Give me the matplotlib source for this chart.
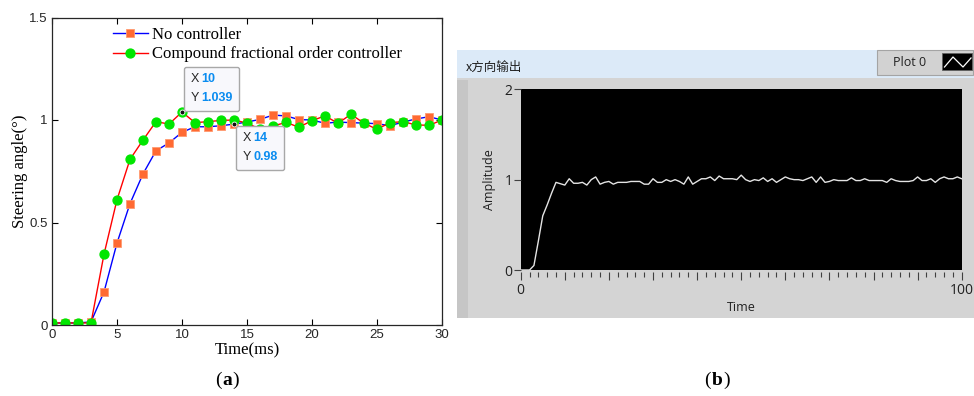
import numpy as np
import matplotlib.pyplot as plt
from matplotlib.patches import Rectangle
from matplotlib.lines import Line2D
from matplotlib.offsetbox import TextArea, HPacker, VPacker, AnnotationBbox

# ---- panel (a): step response, sampled every 1 ms ----
time_ms = list(range(0, 31))
no_ctrl = [0.01, 0.01, 0.01, 0.015, 0.161, 0.40, 0.592, 0.737, 0.850, 0.888,
           0.940, 0.967, 0.967, 0.972, 0.98, 0.990, 1.003, 1.024, 1.020, 1.002,
           1.000, 0.984, 0.990, 0.987, 0.985, 0.982, 0.972, 0.990, 1.005, 1.016,
           1.000]
compound = [0.01, 0.01, 0.01, 0.01, 0.345, 0.611, 0.808, 0.902, 0.992, 0.980,
            1.039, 0.987, 0.992, 0.998, 1.000, 0.985, 0.955, 0.971, 0.988, 0.965,
            0.997, 1.020, 0.984, 1.028, 0.984, 0.955, 0.987, 0.992, 0.976, 0.974,
            1.000]
series_names = ['No controller', 'Compound fractional order controller']

# ---- panel (b): x-direction output trace ----
trace_t = list(range(0, 101))
trace_amp = [0, 0, 0, 0.05, 0.32, 0.60, 0.72, 0.85, 0.97, 0.955,
             0.94, 1.01, 0.96, 0.96, 0.97, 0.94, 1.00, 1.03, 0.95, 0.97,
             0.98, 0.95, 0.97, 0.97, 0.97, 0.98, 0.98, 0.98, 0.95, 0.95,
             1.01, 0.97, 0.97, 1.00, 0.98, 1.00, 0.98, 0.95, 1.03, 0.95,
             0.98, 1.01, 1.01, 1.03, 0.99, 1.04, 1.01, 1.01, 1.01, 1.00,
             1.05, 1.00, 0.98, 1.00, 0.99, 1.02, 0.98, 1.01, 0.97, 1.00,
             1.03, 1.01, 1.00, 1.00, 0.99, 1.01, 1.03, 0.97, 1.03, 0.97,
             0.98, 1.00, 0.99, 0.99, 0.99, 1.02, 0.99, 0.99, 1.01, 0.99,
             0.99, 0.99, 0.99, 0.97, 1.01, 0.99, 0.98, 0.98, 0.98, 0.99,
             1.03, 0.99, 0.99, 1.01, 0.97, 1.01, 1.03, 1.01, 1.01, 1.03,
             1.01]

W, H = 974, 396
fig = plt.figure(figsize=(W / 100, H / 100), dpi=100)


def fx(px):
    return px / W


def fy(py):
    return 1 - py / H


SERIF = 'Liberation Serif'
SANS = 'Liberation Sans'

# ================= (a) =================
ax1 = fig.add_axes([fx(52), fy(325), (442 - 52) / W, (325 - 17.5) / H])
ax1.plot(time_ms, no_ctrl, color='#0000FF', lw=1, marker='s', ms=5.4,
         mfc='#FF6A33', mec='#FF9A70', mew=0.6, label=series_names[0])
ax1.plot(time_ms, compound, color='#FF0000', lw=1, marker='o', ms=6.4,
         mfc='#00E600', mec='#00E600', label=series_names[1])
ax1.set_xlim(0, 30)
ax1.set_ylim(0, 1.5)
ax1.set_xticks(range(0, 31, 5))
ax1.set_yticks([0, 0.5, 1, 1.5])
ax1.set_yticklabels(['0', '0.5', '1', '1.5'])
ax1.tick_params(direction='in', top=True, right=True, length=4, width=0.8,
                labelsize=9.5, pad=3)
for lab in ax1.get_xticklabels() + ax1.get_yticklabels():
    lab.set_family(SANS)
    lab.set_color('#262626')
for sp in ax1.spines.values():
    sp.set_color('#262626')
    sp.set_linewidth(0.9)
ax1.set_xlabel('Time(ms)', family=SERIF, fontsize=12, labelpad=1)
ax1.set_ylabel('Steering angle(°)', family=SERIF, fontsize=12, labelpad=1)
ax1.legend(loc='upper left', bbox_to_anchor=(0.12, 1.016), frameon=False,
           prop={'family': SERIF, 'size': 12}, handlelength=2.1,
           handletextpad=0.25, labelspacing=0.22, borderaxespad=0.45)


def datatip(ax, x, y, ylab, corner, offset):
    rows = []
    for key, val in (('X', '%d' % x), ('Y', ylab)):
        rows.append(HPacker(children=[
            TextArea(key, textprops=dict(color='#262626', size=9, family=SANS)),
            TextArea(val, textprops=dict(color='#0A8CF0', size=9,
                                         weight='bold', family=SANS))],
            pad=0, sep=2, align='baseline'))
    box = VPacker(children=rows, pad=0, sep=5, align='left')
    ab = AnnotationBbox(box, (x, y), xybox=offset, xycoords='data',
                        boxcoords='offset points', box_alignment=corner,
                        frameon=True, pad=0.45,
                        bboxprops=dict(boxstyle='round,pad=0.45,rounding_size=0.15',
                                       fc='#F8F8FC', ec='#A8A8A8', lw=1))
    ab.set_zorder(10)
    ax.add_artist(ab)
    ax.plot([x], [y], 'o', ms=3.5, mfc='#111111', mec='#FFFFFF', mew=0.6,
            zorder=11)


datatip(ax1, 10, compound[10], '%.3f' % compound[10], (0, 0), (6, 5.5))
datatip(ax1, 14, no_ctrl[14], '%.2f' % no_ctrl[14], (0, 1), (6, -6))


def panel_tag(letter, xc, yc):
    # "(x)" with a bold letter and regular brackets
    parts = [TextArea(s, textprops=dict(family=SERIF, size=14, color='black',
                                        weight=w))
             for s, w in (('(', 'normal'), (letter, 'bold'), (')', 'normal'))]
    row = HPacker(children=parts, pad=0, sep=0.5, align='baseline')
    tag = AnnotationBbox(row, (fx(xc), fy(yc)), xycoords='figure fraction',
                         box_alignment=(0.5, 0.5), frameon=False, pad=0)
    fig.add_artist(tag)


panel_tag('a', 227, 380)
panel_tag('b', 717, 380)

# ================= (b) =================
# panel background, header strip and left bevel (kept behind the axes)
fig.add_artist(Rectangle((fx(457), fy(318)), fx(974) - fx(457), (318 - 78) / H,
                         transform=fig.transFigure, fc='#D4D4D4', ec='none',
                         zorder=-3))
fig.add_artist(Rectangle((fx(457), fy(318)), 11 / W, (318 - 80) / H,
                         transform=fig.transFigure, fc='#C6C6C6', ec='none',
                         zorder=-2))
fig.add_artist(Rectangle((fx(457), fy(78)), fx(974) - fx(457), 28 / H,
                         transform=fig.transFigure, fc='#DCEAF8', ec='none',
                         zorder=-3))
fig.text(fx(466), fy(67), 'x方向输出', ha='left', va='center', fontsize=9,
         family=['Noto Sans CJK SC', 'DejaVu Sans'], color='#202020')

# plot legend chip
fig.add_artist(Rectangle((fx(877), fy(75)), fx(973) - fx(877), 25 / H,
                         transform=fig.transFigure, fc='#D2D2D2', ec='#A4A4A4',
                         lw=0.8, zorder=-2))
fig.text(fx(910), fy(62), 'Plot 0', ha='center', va='center', fontsize=9,
         family='Open Sans', color='#202020')
fig.add_artist(Rectangle((fx(942), fy(70)), 30 / W, 17 / H,
                         transform=fig.transFigure, fc='#000000', ec='#606060',
                         lw=0.6, zorder=-1))
fig.add_artist(Line2D([fx(944.5), fx(953), fx(963), fx(971)],
                      [fy(67), fy(57), fy(67), fy(58)],
                      transform=fig.transFigure, color='white', lw=0.9))

ax2 = fig.add_axes([fx(520.7), fy(270), (961.7 - 520.7) / W, (270 - 89.3) / H])
ax2.set_facecolor('#000000')
ax2.plot(trace_t, trace_amp, color='#E4E4E4', lw=1)
ax2.set_xlim(0, 100)
ax2.set_ylim(0, 2)
ax2.set_yticks([0, 1, 2])
ax2.set_xticks(range(0, 101, 10))
ax2.set_xticklabels(['0'] + [''] * 9 + ['100'])
ax2.set_xticks(range(0, 101, 2), minor=True)
ax2.tick_params(axis='y', direction='out', length=5, width=0.8,
                color='#404040', labelsize=10, labelcolor='#202020', pad=1)
ax2.tick_params(axis='x', which='major', direction='out', length=6, width=0.8,
                color='#404040', labelsize=10, labelcolor='#202020', pad=2)
ax2.tick_params(axis='x', which='minor', direction='out', length=3.5,
                width=0.8, color='#404040')
ax2.spines['bottom'].set_position(('outward', 1.5))
for sp in ax2.spines.values():
    sp.set_visible(False)
for lab in ax2.get_xticklabels() + ax2.get_yticklabels():
    lab.set_family('Open Sans')
ax2.set_xlabel('Time', family='Open Sans', fontsize=9, color='#202020',
               labelpad=2)
ax2.set_ylabel('Amplitude', family='Open Sans', fontsize=9, color='#202020',
               labelpad=6)

fig.savefig('out.png', dpi=100)
